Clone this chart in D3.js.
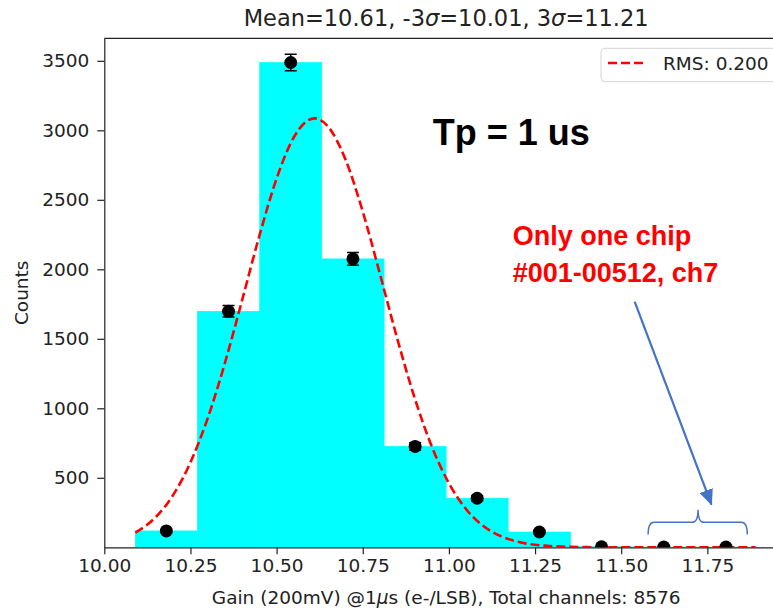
<!DOCTYPE html>
<meta charset="utf-8">
<script src="https://d3js.org/d3.v7.min.js"></script>
<style>
  body { margin: 0; background: #fff; }
  svg text { font-family: "DejaVu Sans", sans-serif; fill: #222; }
</style>
<svg id="chart" width="773" height="613"></svg>
<script>

// histogram bin edges (gain, e-/LSB) and counts per bin
var binEdges = [10.090, 10.270, 10.451, 10.631, 10.812, 10.992, 11.172, 11.353, 11.533, 11.714, 11.894];
var counts = [118, 1698, 3488, 2075, 726, 353, 110, 4, 2, 2];

// dashed fit line
var fitX = [10.09, 10.15, 10.20, 10.25, 10.30, 10.35, 10.40, 10.45, 10.50, 10.55, 10.61, 10.65,
            10.70, 10.75, 10.80, 10.85, 10.90, 10.95, 11.00, 11.05, 11.10, 11.15, 11.20, 11.30,
            11.40, 11.50, 11.70, 11.89];
var fitY = [105, 219, 377, 611, 928, 1326, 1779, 2241, 2653, 2950, 3086, 3025,
            2789, 2415, 1965, 1502, 1079, 727, 461, 274, 153, 81, 40, 8,
            1, 0, 0, 0];

var xTicks = [10.00, 10.25, 10.50, 10.75, 11.00, 11.25, 11.50, 11.75];
var yTicks = [500, 1000, 1500, 2000, 2500, 3000, 3500];

var svg = d3.select("#chart");

// plot area in pixels
var pL = 104.3, pR = 788, pT = 38.3, pB = 547.3;

var x = d3.scaleLinear().domain([10.0, 11.984]).range([pL, pR]);
var y = d3.scaleLinear().domain([0, 3662]).range([pB, pT]);

var defs = svg.append("defs");
defs.append("clipPath").attr("id", "plotclip")
  .append("rect")
    .attr("x", pL).attr("y", pT)
    .attr("width", pR - pL).attr("height", pB - pT);

var plot = svg.append("g").attr("clip-path", "url(#plotclip)");

// bars
var bins = counts.map(function(c, i){ return { x0: binEdges[i], x1: binEdges[i+1], n: c } });

plot.selectAll("rect.bar")
  .data(bins)
  .enter()
  .append("rect")
    .attr("class", "bar")
    .attr("x", function(d){ return x(d.x0) })
    .attr("width", function(d){ return x(d.x1) - x(d.x0) })
    .attr("y", function(d){ return y(d.n) })
    .attr("height", function(d){ return y(0) - y(d.n) })
    .attr("fill", "#00ffff")
    .attr("stroke", "#00ffff")
    .attr("stroke-width", 0.6)

// fit line
var fit = fitX.map(function(v, i){ return [v, fitY[i]] });
plot.append("path")
  .datum(fit)
  .attr("fill", "none")
  .attr("stroke", "#ff0000")
  .attr("stroke-width", 2.6)
  .attr("stroke-dasharray", "9,4")
  .attr("d", d3.line()
    .x(function(d){ return x(d[0]) })
    .y(function(d){ return y(d[1]) })
    .curve(d3.curveMonotoneX))

// error bars (sqrt N) and points at bin centres
var pts = plot.selectAll("g.pt")
  .data(bins)
  .enter()
  .append("g")
    .attr("class", "pt")
    .attr("transform", function(d){ return "translate(" + x((d.x0 + d.x1) / 2) + ",0)" })

pts.append("line")
  .attr("y1", function(d){ return y(d.n + Math.sqrt(d.n)) })
  .attr("y2", function(d){ return y(d.n - Math.sqrt(d.n)) })
  .attr("stroke", "black").attr("stroke-width", 1.5)
pts.selectAll("line.cap")
  .data(function(d){ return [d.n + Math.sqrt(d.n), d.n - Math.sqrt(d.n)] })
  .enter()
  .append("line")
    .attr("class", "cap")
    .attr("x1", -6).attr("x2", 6)
    .attr("y1", function(v){ return y(v) })
    .attr("y2", function(v){ return y(v) })
    .attr("stroke", "black").attr("stroke-width", 1.5)
pts.append("circle")
  .attr("cy", function(d){ return y(d.n) })
  .attr("r", 6.5)
  .attr("fill", "black")

// axes
svg.append("g")
  .attr("transform", "translate(0," + pB + ")")
  .call(d3.axisBottom(x).tickValues(xTicks).tickFormat(d3.format(".2f")).tickSize(7).tickPadding(5).tickSizeOuter(0))
svg.append("g")
  .attr("transform", "translate(" + pL + ",0)")
  .call(d3.axisLeft(y).tickValues(yTicks).tickFormat(d3.format("d")).tickSize(7).tickPadding(8).tickSizeOuter(0))

svg.selectAll(".tick text").style("font-size", "18.5px").style("font-family", "DejaVu Sans").attr("fill", "#222")
svg.selectAll(".domain, .tick line").attr("stroke", "#222").attr("stroke-width", 1.2)

// top spine
svg.append("line")
  .attr("x1", pL).attr("x2", pR).attr("y1", pT).attr("y2", pT)
  .attr("stroke", "#222").attr("stroke-width", 1.2)

// title
var title = svg.append("text")
  .attr("x", (pL + pR) / 2).attr("y", 26)
  .attr("text-anchor", "middle")
  .style("font-size", "22.5px")
title.append("tspan").text("Mean=10.61, -3")
title.append("tspan").style("font-style", "italic").text("σ")
title.append("tspan").text("=10.01, 3")
title.append("tspan").style("font-style", "italic").text("σ")
title.append("tspan").text("=11.21")

// axis labels
var xl = svg.append("text")
  .attr("x", (pL + pR) / 2).attr("y", 604)
  .attr("text-anchor", "middle")
  .style("font-size", "18.5px")
xl.append("tspan").text("Gain (200mV) @1")
xl.append("tspan").style("font-style", "italic").text("μ")
xl.append("tspan").text("s (e-/LSB), Total channels: 8576")

svg.append("text")
  .attr("transform", "translate(28," + ((pT + pB) / 2) + ") rotate(-90)")
  .attr("text-anchor", "middle")
  .style("font-size", "18.5px")
  .text("Counts")

// legend
var lg = svg.append("g")
lg.append("rect")
  .attr("x", 601).attr("y", 48.3).attr("width", 180).attr("height", 33.4)
  .attr("rx", 4)
  .attr("fill", "white").attr("stroke", "#d4d4d4").attr("stroke-width", 1)
lg.append("line")
  .attr("x1", 608).attr("x2", 647).attr("y1", 63).attr("y2", 63)
  .attr("stroke", "#ff0000").attr("stroke-width", 2.6).attr("stroke-dasharray", "9,4")
lg.append("text")
  .attr("x", 663).attr("y", 70)
  .style("font-size", "18.5px")
  .text("RMS: 0.200")

// annotations
svg.append("text")
  .attr("x", x(10.953)).attr("y", y(2894))
  .style("font-family", "Liberation Sans, Arial, sans-serif")
  .style("font-weight", "bold").style("font-size", "36px")
  .style("fill", "black")
  .text("Tp = 1 us")

var note = svg.append("text")
  .style("font-family", "Liberation Sans, Arial, sans-serif")
  .style("font-weight", "bold").style("font-size", "27px")
  .style("fill", "#ff0000")
note.append("tspan").attr("x", x(11.185)).attr("y", y(2175)).text("Only one chip")
note.append("tspan").attr("x", x(11.185)).attr("y", y(1912)).text("#001-00512, ch7")

// arrow pointing at the outlier bins
defs.append("marker")
  .attr("id", "head")
  .attr("viewBox", "0 0 16 14")
  .attr("refX", 15).attr("refY", 7)
  .attr("markerWidth", 16).attr("markerHeight", 14)
  .attr("markerUnits", "userSpaceOnUse")
  .attr("orient", "auto")
  .append("path").attr("d", "M0,0 L16,7 L0,14 z").attr("fill", "#4472c4")

svg.append("line")
  .attr("x1", x(11.539)).attr("y1", y(1768))
  .attr("x2", x(11.762)).attr("y2", y(307))
  .attr("stroke", "#4472c4").attr("stroke-width", 2.2)
  .attr("marker-end", "url(#head)")

// curly brace over the outliers
var bx0 = x(11.578), bx1 = x(11.866), bm = x(11.723);
var yb = y(92), yl = y(180), yt = y(271);
svg.append("path")
  .attr("d", "M" + bx0 + "," + yb +
    " Q" + bx0 + "," + yl + " " + (bx0 + 6) + "," + yl +
    " L" + (bm - 6) + "," + yl +
    " Q" + bm + "," + yl + " " + bm + "," + yt +
    " Q" + bm + "," + yl + " " + (bm + 6) + "," + yl +
    " L" + (bx1 - 6) + "," + yl +
    " Q" + bx1 + "," + yl + " " + bx1 + "," + yb)
  .attr("fill", "none")
  .attr("stroke", "#4472c4").attr("stroke-width", 1.4)

</script>
